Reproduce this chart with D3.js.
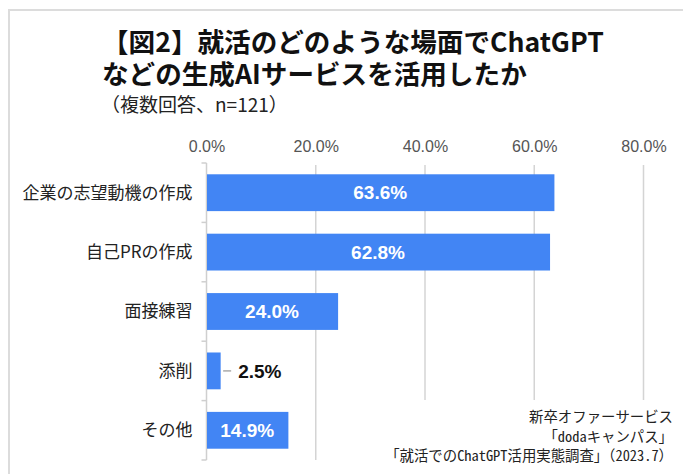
<!DOCTYPE html>
<html lang="ja">
<head>
<meta charset="utf-8">
<script src="https://d3js.org/d3.v7.min.js"></script>
<style>
body{margin:0;background:#fff;overflow:hidden;}
svg{display:block;}
</style>
</head>
<body>
<svg id="chart" width="683" height="474"></svg>
<script>
// data
var categories = ["企業の志望動機の作成", "自己PRの作成", "面接練習", "添削", "その他"];
var values = [63.6, 62.8, 24.0, 2.5, 14.9];
var tickValues = [0, 20, 40, 60, 80];
var titleLines = ["【図2】就活のどのような場面でChatGPT", "などの生成AIサービスを活用したか"];
var subtitle = "（複数回答、n=121）";
var sourceLines = ["新卒オファーサービス", "「dodaキャンパス」", "「就活でのChatGPT活用実態調査」（2023.7）"];

var jp = "'Noto Sans CJK JP', 'Noto Sans', sans-serif";
var num = "'Liberation Sans', Arial, sans-serif";

var svg = d3.select("#chart");

// outer frame
svg.append("rect")
    .attr("x", 9).attr("y", 10)
    .attr("width", 700).attr("height", 500)
    .attr("fill", "none")
    .attr("stroke", "#dcdcdc")
    .attr("stroke-width", 2);

// title, two lines in one text block
svg.append("text")
    .attr("font-family", jp)
    .attr("font-weight", "bold")
    .attr("font-size", "26.6px")
    .attr("fill", "#111")
  .selectAll("tspan")
  .data(titleLines)
  .enter().append("tspan")
    .attr("x", 102)
    .attr("y", function(d, i) { return 52 + i * 32; })
    .text(function(d) { return d; });

svg.append("text")
    .attr("x", 101).attr("y", 112)
    .attr("font-family", jp)
    .attr("font-size", "19px")
    .attr("fill", "#222")
    .text(subtitle);

var x = d3.scaleLinear().domain([0, 80]).range([206.5, 643.5]);
var y = d3.scaleBand().domain(categories).range([163, 460])
    .paddingInner(0.38).paddingOuter(0.19);

// gridlines
svg.selectAll(".grid")
  .data(tickValues.slice(1))
  .enter().append("line")
    .attr("x1", function(d) { return x(d); })
    .attr("x2", function(d) { return x(d); })
    .attr("y1", 165).attr("y2", 460)
    .attr("stroke", "#d4d4d4")
    .attr("stroke-width", 1.5);

// top tick labels
var xAxis = svg.append("g")
    .attr("transform", "translate(0,149)")
    .call(d3.axisTop(x).tickValues(tickValues).tickSize(0).tickFormat(function(d) { return d3.format(".1f")(d) + "%"; }));
xAxis.select(".domain").remove();
xAxis.selectAll("text")
    .attr("font-family", num)
    .attr("font-size", "16px")
    .attr("fill", "#555")
    .attr("dy", "0.35em");

// category axis line with ticks at band boundaries
var step = y.step();
var bounds = categories.map(function(c) { return y(c) - step * y.paddingInner() / 2; });
bounds.push(y(categories[categories.length - 1]) + y.bandwidth() + step * y.paddingInner() / 2);
svg.append("line")
    .attr("x1", x(0)).attr("x2", x(0))
    .attr("y1", bounds[0]).attr("y2", bounds[bounds.length - 1])
    .attr("stroke", "#cfcfcf").attr("stroke-width", 1.5);
svg.selectAll(".ytick")
  .data(bounds)
  .enter().append("line")
    .attr("x1", x(0) - 5).attr("x2", x(0))
    .attr("y1", function(d) { return d; })
    .attr("y2", function(d) { return d; })
    .attr("stroke", "#cfcfcf").attr("stroke-width", 1.5);

// category labels
svg.selectAll(".cat")
  .data(categories)
  .enter().append("text")
    .attr("x", x(0) - 14)
    .attr("y", function(d) { return y(d) + y.bandwidth() / 2; })
    .attr("dy", "0.35em")
    .attr("text-anchor", "end")
    .attr("font-family", jp)
    .attr("font-size", "17px")
    .attr("fill", "#222")
    .text(function(d) { return d; });

// bars
svg.selectAll(".bar")
  .data(values)
  .enter().append("rect")
    .attr("x", x(0) + 0.5)
    .attr("y", function(d, i) { return y(categories[i]); })
    .attr("width", function(d) { return x(d) - x(0); })
    .attr("height", y.bandwidth())
    .attr("fill", "#4285f4");

// value labels
var fmt = function(d) { return d3.format(".1f")(d) + "%"; };
values.forEach(function(v, i) {
  var cy = y(categories[i]) + y.bandwidth() / 2;
  if (v > 10) {
    svg.append("text")
        .attr("x", (x(0) + x(v)) / 2)
        .attr("y", cy).attr("dy", "0.35em")
        .attr("text-anchor", "middle")
        .attr("font-family", num).attr("font-weight", "bold")
        .attr("font-size", "19px").attr("fill", "#fff")
        .text(fmt(v));
  } else {
    svg.append("line")
        .attr("x1", x(v) + 3).attr("x2", x(v) + 11)
        .attr("y1", cy).attr("y2", cy)
        .attr("stroke", "#aaa").attr("stroke-width", 1.5);
    svg.append("text")
        .attr("x", x(v) + 18)
        .attr("y", cy).attr("dy", "0.35em")
        .attr("font-family", num).attr("font-weight", "bold")
        .attr("font-size", "19px").attr("fill", "#111")
        .text(fmt(v));
  }
});

// source note with white backing
svg.append("rect")
    .attr("x", 372).attr("y", 400)
    .attr("width", 320).attr("height", 74)
    .attr("fill", "#fff");
svg.selectAll(".src")
  .data(sourceLines)
  .enter().append("text")
    .attr("x", 673)
    .attr("y", function(d, i) { return 417 + i * 19.5; })
    .attr("dy", "0.35em")
    .attr("text-anchor", "end")
    .attr("font-family", "'Noto Sans Mono CJK JP', 'Noto Sans CJK JP', monospace")
    .attr("font-size", "14.4px")
    .attr("fill", "#222")
    .text(function(d) { return d; });
</script>
</body>
</html>
